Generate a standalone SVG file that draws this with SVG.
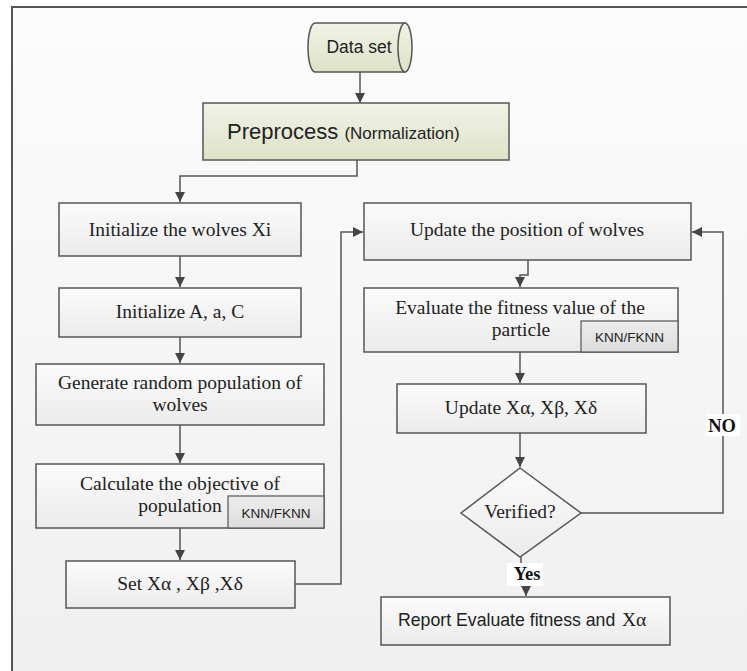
<svg xmlns="http://www.w3.org/2000/svg" width="747" height="671" viewBox="0 0 747 671">
<defs>
<linearGradient id="bg" x1="0" y1="0" x2="0" y2="1"><stop offset="0" stop-color="#fcfcfc"/><stop offset="1" stop-color="#efefef"/></linearGradient>
<linearGradient id="box" x1="0" y1="0" x2="0" y2="1"><stop offset="0" stop-color="#fbfbfb"/><stop offset="1" stop-color="#ebebeb"/></linearGradient>
<linearGradient id="green" x1="0" y1="0" x2="0" y2="1"><stop offset="0" stop-color="#f1f3e6"/><stop offset="1" stop-color="#dde2c8"/></linearGradient>
<linearGradient id="knn" x1="0" y1="0" x2="0" y2="1"><stop offset="0" stop-color="#ececec"/><stop offset="1" stop-color="#dddddd"/></linearGradient>
<marker id="arr" viewBox="0 0 10 10" refX="10" refY="5" markerWidth="10" markerHeight="10" markerUnits="userSpaceOnUse" orient="auto"><path d="M0,0 L10,5 L0,10 z" fill="#444"/></marker>
</defs>
<style>
.b{fill:url(#box);stroke:#555;stroke-width:1.5}
.g{fill:url(#green);stroke:#555;stroke-width:1.5}
.k{fill:url(#knn);stroke:#555;stroke-width:1.2}
.t{font-family:"Liberation Serif","Times New Roman",serif;font-size:19.5px;fill:#222;text-anchor:middle}
.s{font-family:"Liberation Sans",Arial,sans-serif;fill:#222}
.lb{font-family:"Liberation Serif","Times New Roman",serif;font-weight:bold;font-size:18.5px;fill:#111;text-anchor:middle}
.c{fill:none;stroke:#555;stroke-width:1.5;marker-end:url(#arr)}
.n{fill:none;stroke:#555;stroke-width:1.5}
</style>
<rect width="747" height="671" fill="#ffffff"/>
<rect x="12" y="7" width="760" height="700" fill="url(#bg)" stroke="#555" stroke-width="2"/>

<g id="connectors">
<path class="c" d="M360,72 V103"/>
<path class="c" d="M357,160 V176 H180 V202"/>
<path class="c" d="M180,256 V287"/>
<path class="c" d="M180,337 V363"/>
<path class="c" d="M180,425 V463"/>
<path class="c" d="M180,528 V560"/>
<path class="c" d="M295,584 H341 V232 H363"/>
<path class="c" d="M528,260 V275 H520 V287"/>
<path class="c" d="M520,352 V383"/>
<path class="c" d="M520,433 V467"/>
<path class="c" d="M581,513 H723 V232 H692"/>
<path class="c" d="M521,557 V570 H526 V596"/>
<rect x="507" y="563" width="36" height="23" fill="#ffffff"/>
<text class="lb" x="527" y="580">Yes</text>
<rect x="706" y="414" width="34" height="22" fill="#ffffff"/>
<text class="lb" x="722" y="432">NO</text>
</g>

<g id="dataset">
<path class="g" d="M405,23 H315 A7,24.5 0 0 0 315,72 H405 Z"/>
<ellipse class="g" cx="405" cy="47.5" rx="7" ry="24.5"/>
<text class="s" x="359" y="53" font-size="17.5" text-anchor="middle">Data set</text>
</g>

<g id="preprocess">
<rect class="g" x="203" y="103" width="306" height="57"/>
<text class="s" x="227" y="139" font-size="22">Preprocess <tspan font-size="17">(Normalization)</tspan></text>
</g>

<g id="init-wolves">
<rect class="b" x="59" y="203" width="242" height="53"/>
<text class="t" x="180" y="236">Initialize the wolves Xi</text>
</g>

<g id="init-aac">
<rect class="b" x="59" y="288" width="242" height="49"/>
<text class="t" x="180" y="318">Initialize A, a, C</text>
</g>

<g id="generate">
<rect class="b" x="36" y="364" width="288" height="61"/>
<text class="t" x="180" y="389">Generate random population of</text>
<text class="t" x="180" y="411">wolves</text>
</g>

<g id="calculate">
<rect class="b" x="36" y="464" width="288" height="64"/>
<rect class="k" x="228" y="496" width="96" height="32"/>
<text class="t" x="180" y="490">Calculate the objective of</text>
<text class="t" x="180" y="512">population</text>
<text class="s" x="276" y="518" font-size="13.5" text-anchor="middle">KNN/FKNN</text>
</g>

<g id="set-x">
<rect class="b" x="66" y="561" width="229" height="47"/>
<text class="t" x="180" y="590">Set Xα , Xβ ,Xδ</text>
</g>

<g id="update-position">
<rect class="b" x="364" y="203" width="327" height="57"/>
<text class="t" x="527" y="236">Update the position of wolves</text>
</g>

<g id="evaluate">
<rect class="b" x="364" y="288" width="314" height="64"/>
<rect class="k" x="581" y="321" width="97" height="31"/>
<text class="t" x="520" y="314">Evaluate the fitness value of the</text>
<text class="t" x="521" y="336">particle</text>
<text class="s" x="629.5" y="342" font-size="13.5" text-anchor="middle">KNN/FKNN</text>
</g>

<g id="update-x">
<rect class="b" x="397" y="384" width="249" height="49"/>
<text class="t" x="521" y="414">Update Xα, Xβ, Xδ</text>
</g>

<g id="verified">
<path class="b" d="M520,468 L581,513 L520,557 L461,513 Z"/>
<text class="t" x="520" y="518">Verified?</text>
</g>

<g id="report">
<rect class="b" x="381" y="597" width="289" height="48"/>
<text x="398" y="626"><tspan class="s" font-size="17.7">Report Evaluate fitness and</tspan><tspan x="622" font-family="Liberation Serif, serif" font-size="19.5" fill="#222">Xα</tspan></text>
</g>
</svg>
